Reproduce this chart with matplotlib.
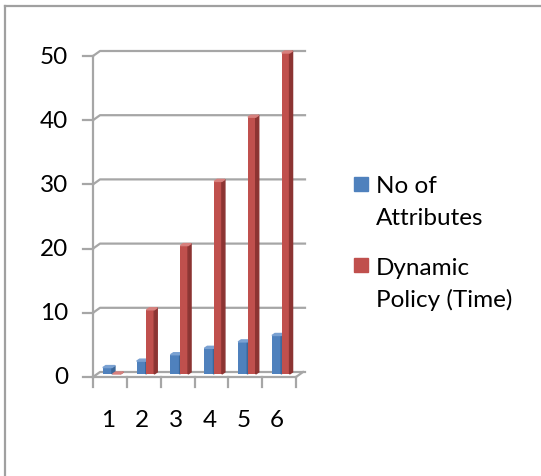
import matplotlib
matplotlib.use("Agg")
import matplotlib.pyplot as plt
from matplotlib.patches import Polygon

plt.rcParams['font.family'] = ['Lato', 'DejaVu Sans']

categories = ['1', '2', '3', '4', '5', '6']
attributes = [1, 2, 3, 4, 5, 6]
policy_time = [0, 10, 20, 30, 40, 50]
series_names = ['No of\nAttributes', 'Dynamic\nPolicy (Time)']

W, H = 541, 477
FS = 17.5
fig = plt.figure(figsize=(W / 100, H / 100), dpi=100)


def px(x, y):
    return x / W, 1 - y / H


# chart area border (top and left only)
fig.add_artist(plt.Line2D([5 / W, 1], [1 - 6.5 / H] * 2, color='#a0a0a0', lw=1.6))
fig.add_artist(plt.Line2D([5 / W] * 2, [0, 1 - 6.5 / H], color='#a0a0a0', lw=1.6))

ax = fig.add_axes([93 / W, 99 / H, 203 / W, 321 / H])
ax.set_xlim(0.5, 6.5)
ax.set_ylim(0, 50)
ax.axis('off')

grid_c = '#a6a6a6'
# pixel -> data scale
ux = 6 / 203
uy = 50 / 321
depth_x, depth_y = 7 * ux, 5 * uy

# back wall gridlines with slanted connectors
for v in range(0, 51, 10):
    ax.plot([0.5, 0.5 + depth_x, 6.5 + depth_x + 2 * ux], [v, v + depth_y, v + depth_y],
            color=grid_c, lw=1.6, clip_on=False, zorder=1)
# floor right edge
ax.plot([6.5, 6.5 + depth_x], [0, depth_y], color=grid_c, lw=1.6, clip_on=False)

# front axes
ax.plot([0.5, 0.5], [0, 50], color=grid_c, lw=1.6, clip_on=False, zorder=2)
ax.plot([0.5, 6.5], [0, 0], color=grid_c, lw=1.6, clip_on=False, zorder=2)
for v in range(0, 51, 10):
    ax.plot([0.5 - 10 * ux, 0.5], [v, v], color=grid_c, lw=1.6, clip_on=False)
    ax.text(0.5 - 25 * ux, v, str(v), ha='right', va='center', fontsize=FS)
for i in range(7):
    ax.plot([0.5 + i, 0.5 + i], [0, -10 * uy], color=grid_c, lw=1.6, clip_on=False)
for i, c in enumerate(categories):
    ax.text(i + 1 - 2 * ux, -43 * uy, c, ha='center', va='center', fontsize=FS)

blue, blue_side, blue_top = '#4f81bd', '#3a6699', '#7aa1d2'
red, red_side, red_top = '#c0504d', '#8c3432', '#d7807d'
base = 3 * uy
side_w, side_h = 3 * ux, 2 * uy


def bar3d(x0, w, h, face, side, top):
    ax.bar(x0, h, width=w, bottom=base, align='edge', color=face, zorder=3, clip_on=False)
    ax.add_patch(Polygon([(x0 + w, base), (x0 + w, base + h), (x0 + w + side_w, base + h + side_h),
                          (x0 + w + side_w, base + side_h)], closed=True, color=side, zorder=3,
                         clip_on=False))
    ax.add_patch(Polygon([(x0, base + h), (x0 + w, base + h), (x0 + w + side_w, base + h + side_h),
                          (x0 + side_w, base + h + side_h)], closed=True, color=top, zorder=3,
                         clip_on=False))


for i in range(len(categories)):
    xc = i + 1
    bar3d(xc - 0.21, 0.27, attributes[i], blue, blue_side, blue_top)
    bar3d(xc + 0.08, 0.23, policy_time[i], red, red_side, red_top)

# legend
for (sx, sy), col, (tx, ty), name in [((354, 178), blue, (376, 193), series_names[0]),
                                      ((354, 259), red, (376, 275), series_names[1])]:
    fig.add_artist(plt.Rectangle(px(sx, sy + 14), 14 / W, 14 / H, color=col))
    lines = name.split('\n')
    for k, line in enumerate(lines):
        fig.text(*px(tx, ty + 32 * k), line, ha='left', va='baseline', fontsize=FS)

fig.savefig('out.png', dpi=100)
